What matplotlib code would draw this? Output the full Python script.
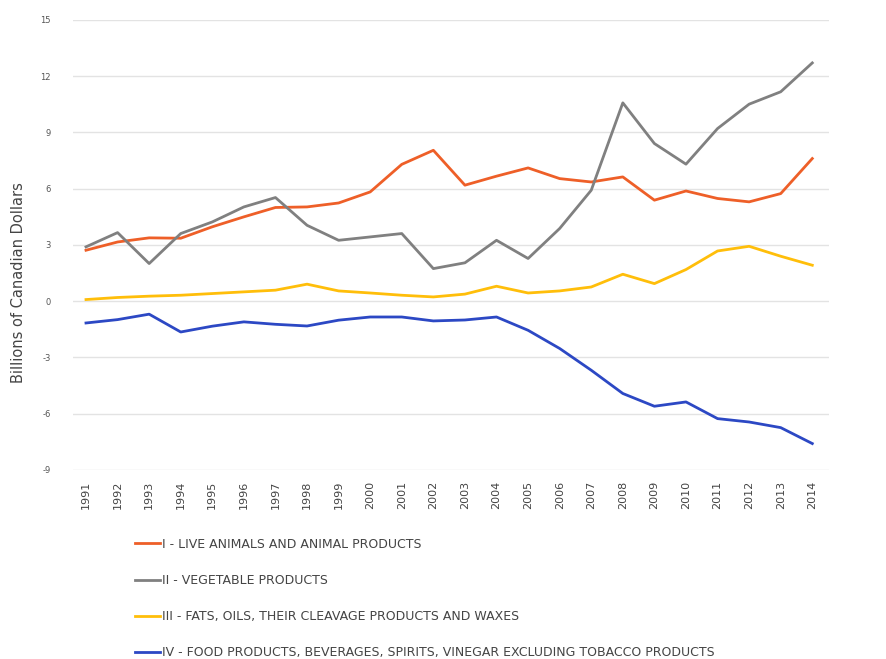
import matplotlib.pyplot as plt

years = [str(y) for y in range(1991, 2015)]

live_animals = [2.72, 3.16, 3.38, 3.36, 3.97, 4.5, 5.0, 5.03, 5.24, 5.83, 7.3, 8.05,
                6.19, 6.67, 7.11, 6.54, 6.36, 6.63, 5.39, 5.88, 5.48, 5.3, 5.74, 7.61]
vegetable = [2.9, 3.66, 2.01, 3.61, 4.23, 5.03, 5.53, 4.05, 3.25, 3.43, 3.61, 1.74,
             2.05, 3.25, 2.28, 3.88, 5.92, 10.58, 8.41, 7.31, 9.21, 10.51, 11.17, 12.71]
fats_oils = [0.09, 0.2, 0.27, 0.32, 0.41, 0.5, 0.59, 0.91, 0.55, 0.44, 0.32, 0.23,
             0.38, 0.8, 0.44, 0.55, 0.76, 1.44, 0.94, 1.69, 2.68, 2.93, 2.4, 1.92]
food_products = [-1.16, -0.98, -0.69, -1.64, -1.33, -1.1, -1.23, -1.32, -1.01, -0.84, -0.84, -1.05,
                 -1.0, -0.84, -1.55, -2.52, -3.68, -4.92, -5.6, -5.37, -6.26, -6.44, -6.74, -7.59]

labels = ['I - LIVE ANIMALS AND ANIMAL PRODUCTS',
          'II - VEGETABLE PRODUCTS',
          'III - FATS, OILS, THEIR CLEAVAGE PRODUCTS AND WAXES',
          'IV - FOOD PRODUCTS, BEVERAGES, SPIRITS, VINEGAR EXCLUDING TOBACCO PRODUCTS']
colors = ['#EE5F28', '#808080', '#FFBE0A', '#2C48C4']
yticks = [-9, -6, -3, 0, 3, 6, 9, 12, 15]

fig = plt.figure(figsize=(8.87, 6.59), dpi=100)
ax = fig.add_axes([0.082, 0.2868, 0.853, 0.6829])

x = list(range(len(years)))
for series, lab, col in zip([live_animals, vegetable, fats_oils, food_products], labels, colors):
    ax.plot(x, series, color=col, lw=2, label=lab)

ax.set_xlim(-0.42, 23.54)
ax.set_ylim(-9, 15)
ax.set_yticks(yticks)
ax.set_yticklabels([str(t) for t in yticks], fontsize=6, color='#555555')
ax.set_xticks(x)
ax.set_xticklabels(years, rotation=90, fontsize=8, color='#444444')
ax.tick_params(length=0)
ax.tick_params(axis='y', pad=16)
ax.tick_params(axis='x', pad=8)
ax.grid(axis='y', color='#E3E3E3', lw=1)
ax.set_axisbelow(True)
for s in ax.spines.values():
    s.set_visible(False)
ax.set_ylabel('Billions of Canadian Dollars', fontsize=10.5, color='#444444')
ax.yaxis.set_label_coords(-0.062, 0.416)

fig.legend(loc='upper left', bbox_to_anchor=(0.152, 0.184), frameon=False,
           fontsize=9, labelspacing=1.86, handlelength=2.0, handletextpad=0.15,
           borderpad=0, borderaxespad=0, labelcolor='#444444')

fig.savefig('out.png', dpi=100)
